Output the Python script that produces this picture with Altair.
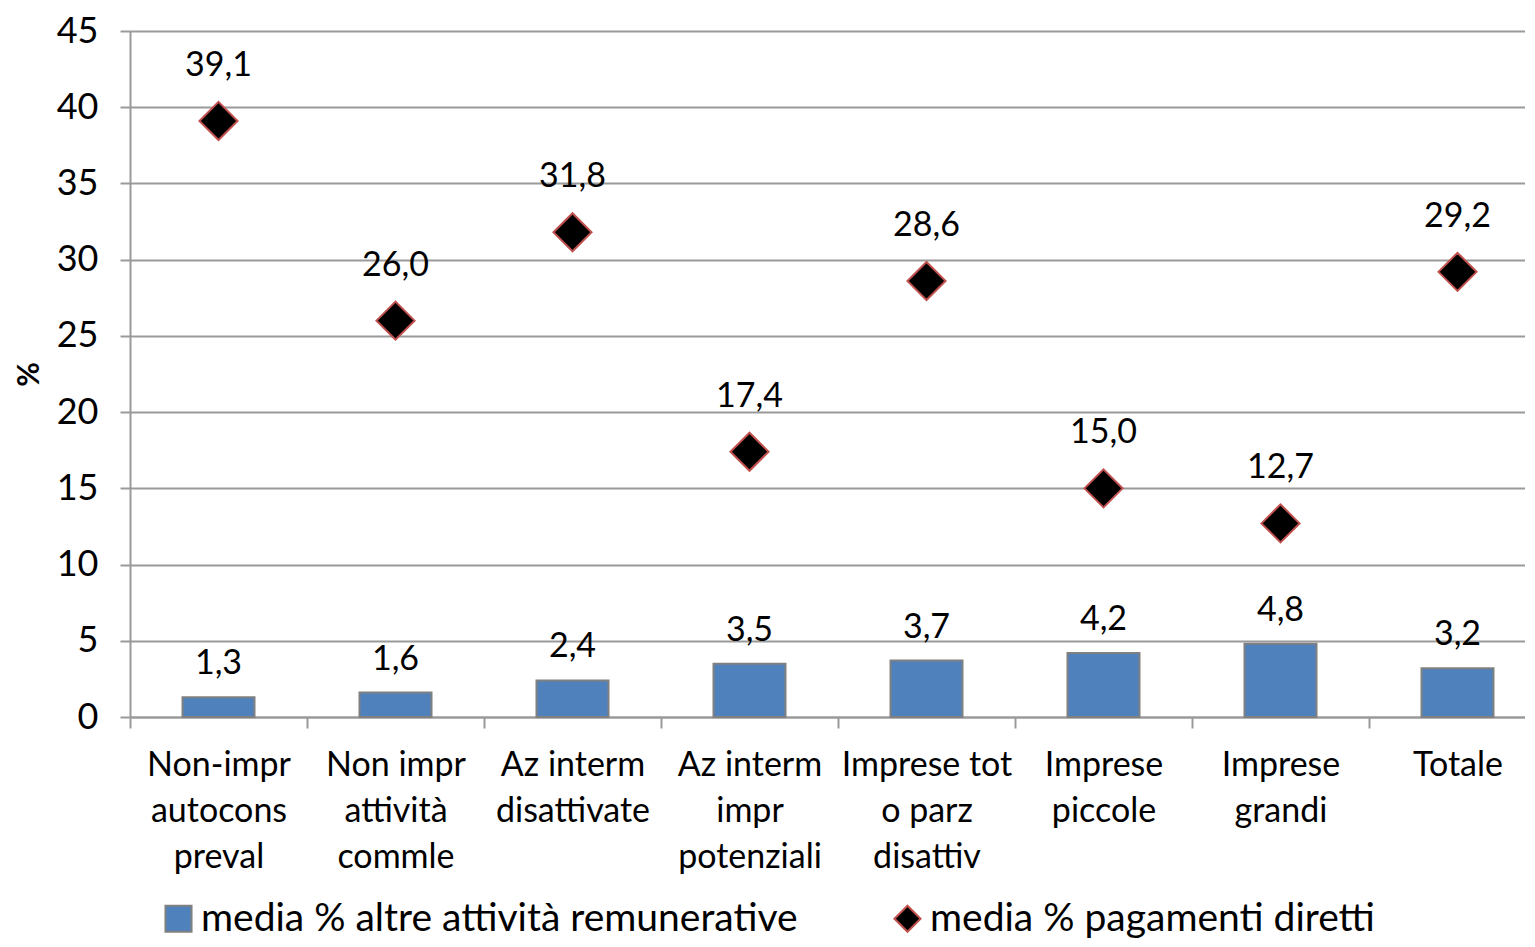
import altair as alt
import pandas as pd

categories = [
    "Non-impr\nautocons\npreval",
    "Non impr\nattività\ncommle",
    "Az interm\ndisattivate",
    "Az interm\nimpr\npotenziali",
    "Imprese tot\no parz\ndisattiv",
    "Imprese\npiccole",
    "Imprese\ngrandi",
    "Totale",
]
altre_attivita = [1.3, 1.6, 2.4, 3.5, 3.7, 4.2, 4.8, 3.2]
pagamenti_diretti = [39.1, 26.0, 31.8, 17.4, 28.6, 15.0, 12.7, 29.2]
series_names = ["media % altre attività remunerative", "media % pagamenti diretti"]
y_ticks = [0, 5, 10, 15, 20, 25, 30, 35, 40, 45]


def fmt(v):
    return f"{v:.1f}".replace(".", ",")


bars_df = pd.DataFrame({
    "cat": categories,
    "value": altre_attivita,
    "series": series_names[0],
    "label": [fmt(v) for v in altre_attivita],
})
pts_df = pd.DataFrame({
    "cat": categories,
    "value": pagamenti_diretti,
    "series": series_names[1],
    "label": [fmt(v) for v in pagamenti_diretti],
})

FONT = "Lato"
GRID = "#9A9A9A"

x_enc = alt.X(
    "cat:N",
    sort=categories,
    scale=alt.Scale(paddingInner=0, paddingOuter=0),
    axis=alt.Axis(
        title=None,
        labelAngle=0,
        labelExpr="split(datum.label, '\\n')",
        labelFont=FONT,
        labelFontSize=34,
        labelColor="black",
        labelLineHeight=46,
        labelPadding=20,
        labelLimit=400,
        tickBand="extent",
        tickSize=11,
        tickColor=GRID,
        tickWidth=2,
        domainColor=GRID,
        domainWidth=2,
        grid=False,
    ),
)
y_enc = alt.Y(
    "value:Q",
    scale=alt.Scale(domain=[0, 45], nice=False),
    axis=alt.Axis(
        values=y_ticks,
        title="%",
        titleFont=FONT,
        titleFontSize=30,
        titleFontWeight="bold",
        titleColor="black",
        titlePadding=12,
        labelFont=FONT,
        labelFontSize=36,
        labelColor="black",
        labelPadding=22,
        tickSize=10,
        tickColor=GRID,
        tickWidth=2,
        domainColor=GRID,
        domainWidth=2,
        gridColor=GRID,
        gridWidth=2,
    ),
)

color_scale = alt.Scale(domain=series_names, range=["#4F81BD", "#000000"])
stroke_scale = alt.Scale(domain=series_names, range=["#808080", "#C0504D"])
shape_scale = alt.Scale(domain=series_names, range=["square", "diamond"])

legend = alt.Legend(
    title=None,
    orient="none",
    legendX=29,
    legendY=868,
    direction="horizontal",
    labelFont=FONT,
    labelFontSize=39,
    labelColor="black",
    labelLimit=1000,
    labelOffset=3,
    symbolSize=680,
    symbolStrokeWidth=2,
    columnPadding=90,
)

bars = alt.Chart(bars_df).mark_bar(size=72, strokeWidth=2).encode(
    x=x_enc,
    y=y_enc,
    color=alt.Color("series:N", scale=color_scale, legend=legend),
    stroke=alt.Stroke("series:N", scale=stroke_scale, legend=legend),
)
bar_text = alt.Chart(bars_df).mark_text(
    dy=-33, font=FONT, fontSize=34, color="black", baseline="middle"
).encode(x=alt.X("cat:N", sort=categories), y="value:Q", text="label:N")

points = alt.Chart(pts_df).mark_point(filled=True, size=1450, strokeWidth=2, opacity=1).encode(
    x=alt.X("cat:N", sort=categories),
    y="value:Q",
    color=alt.Color("series:N", scale=color_scale, legend=legend),
    stroke=alt.Stroke("series:N", scale=stroke_scale, legend=legend),
    shape=alt.Shape("series:N", scale=shape_scale, legend=legend),
)
pt_text = alt.Chart(pts_df).mark_text(
    dy=-55, font=FONT, fontSize=34, color="black", baseline="middle"
).encode(x=alt.X("cat:N", sort=categories), y="value:Q", text="label:N")

chart = (
    alt.layer(bars, bar_text, points, pt_text)
    .properties(width=1416, height=686, padding={"left": 6, "top": 5, "right": -22, "bottom": 0})
    .configure_view(stroke=None)
    .configure(background="white")
)

chart.save("out.html", embed_options={"renderer": "svg", "actions": False})
